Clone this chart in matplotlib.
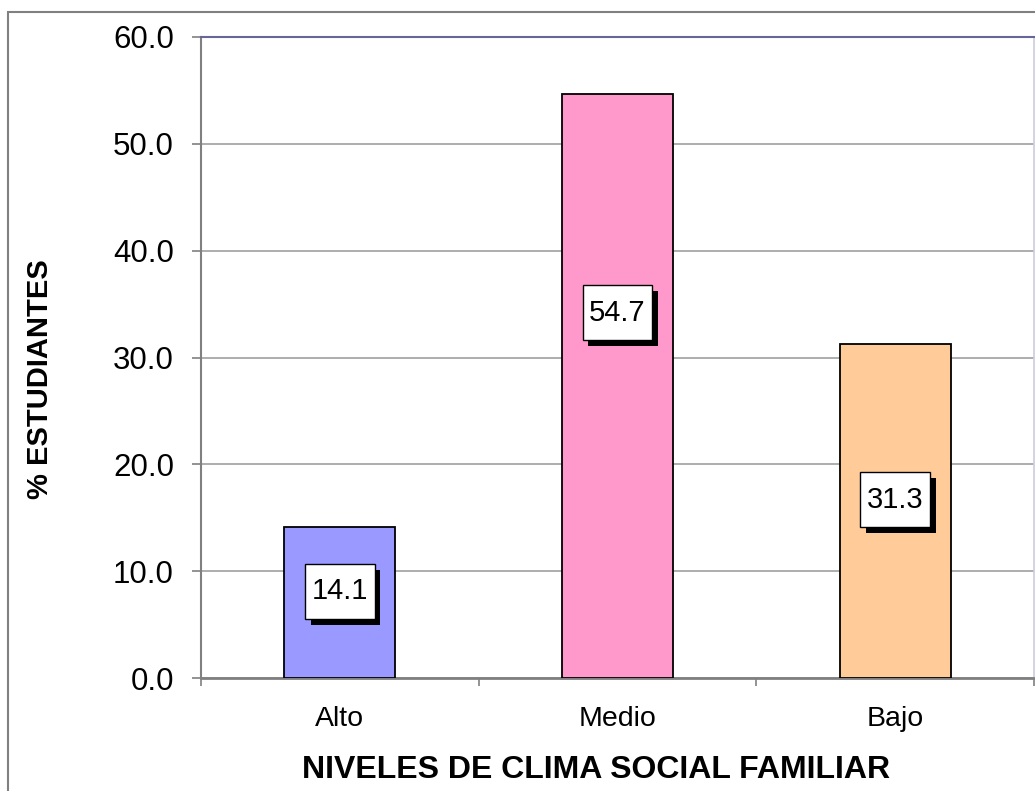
import matplotlib
matplotlib.use("Agg")
import matplotlib.pyplot as plt
from matplotlib.patches import Rectangle
from matplotlib.path import Path
import matplotlib.patheffects as pe
import numpy as np

# ---- data ----
categories = ["Alto", "Medio", "Bajo"]
values = [14.1, 54.7, 31.3]
bar_colors = ["#9999FF", "#FF99CC", "#FFCC99"]
yticks = [0, 10, 20, 30, 40, 50, 60]
xlabel = "NIVELES DE CLIMA SOCIAL FAMILIAR"
ylabel = "% ESTUDIANTES"

# layout: label box centre heights (data units)
label_y = [8.1, 34.2, 16.7]

plt.rcParams['font.family'] = ['Liberation Sans', 'DejaVu Sans']

W, H = 1035, 791
fig = plt.figure(figsize=(W / 100, H / 100), dpi=100)
fig.patch.set_facecolor("white")

L, R, T, B = 201, 1034, 37, 678
ax = fig.add_axes([L / W, 1 - B / H, (R - L) / W, (B - T) / H])

x = np.arange(len(categories))
ax.bar(x, values, width=0.4, color=bar_colors, edgecolor="black",
       linewidth=1.3, zorder=3)

ax.set_xlim(-0.5, len(categories) - 0.5)
ax.set_ylim(0, 60)
ax.set_yticks(yticks)
ax.set_yticklabels([f"{v:.1f}" for v in yticks])
ax.yaxis.grid(True, color="#A0A0A0", linewidth=1.2, zorder=0)
ax.set_axisbelow(True)

# x ticks at category boundaries, labels at centres
ax.set_xticks(np.arange(-0.5, len(categories), 1.0))
ax.set_xticklabels([""] * (len(categories) + 1))
ax.set_xticks(x, minor=True)
ax.set_xticklabels(categories, minor=True)
ax.tick_params(axis="x", which="major", direction="out", length=6,
               width=1.2, color="#808080")
ax.tick_params(axis="x", which="minor", length=0, pad=20, labelsize=20.5)
ax.tick_params(axis="y", direction="out", length=6.5, width=1.2,
               color="#808080", pad=13, labelsize=22.5)

for side, col, lw in [("left", "#808080", 1.5), ("bottom", "#808080", 2.0),
                      ("top", "#666699", 1.5), ("right", "#CCCCDD", 1.2)]:
    ax.spines[side].set_color(col)
    ax.spines[side].set_linewidth(lw)


# custom box with separate x / y padding (pixels)
class PadBox:
    def __init__(self, padx, pady):
        self.padx = padx
        self.pady = pady

    def __call__(self, x0, y0, width, height, mutation_size):
        px, py = self.padx, self.pady
        x0, y0 = x0 - px, y0 - py
        x1, y1 = x0 + width + 2 * px, y0 + height + 2 * py
        return Path([(x0, y0), (x1, y0), (x1, y1), (x0, y1), (x0, y0)],
                    closed=True)


box = PadBox(6.5, 13.5)
for xi, v, ly in zip(x, values, label_y):
    t = ax.annotate(f"{v:.1f}", (xi, ly), ha="center", va="center",
                    fontsize=21, color="black",
                    bbox=dict(boxstyle=box, facecolor="white",
                              edgecolor="black", linewidth=1), zorder=5)
    t.get_bbox_patch().set_path_effects([
        pe.SimplePatchShadow(offset=(4, -4.3), shadow_rgbFace="black",
                             alpha=1.0),
        pe.Normal()])

ax.set_xlabel(xlabel, fontsize=23, fontweight="bold", va="center", ha="center")
ax.xaxis.set_label_coords((596 - L) / (R - L), (B - 770) / (B - T))
ax.set_ylabel(ylabel, fontsize=21, fontweight="bold", va="center", ha="center")
ax.yaxis.set_label_coords((40 - L) / (R - L), (B - 379) / (B - T))

# outer chart border (extends past the right/bottom image edge)
fig.patches.append(Rectangle((8 / W, -0.1), 2.0, (1 - 12 / H) + 0.1,
                             transform=fig.transFigure, fill=False,
                             edgecolor="#808080", linewidth=1.5,
                             clip_on=False))

fig.savefig("out.png", dpi=100)
